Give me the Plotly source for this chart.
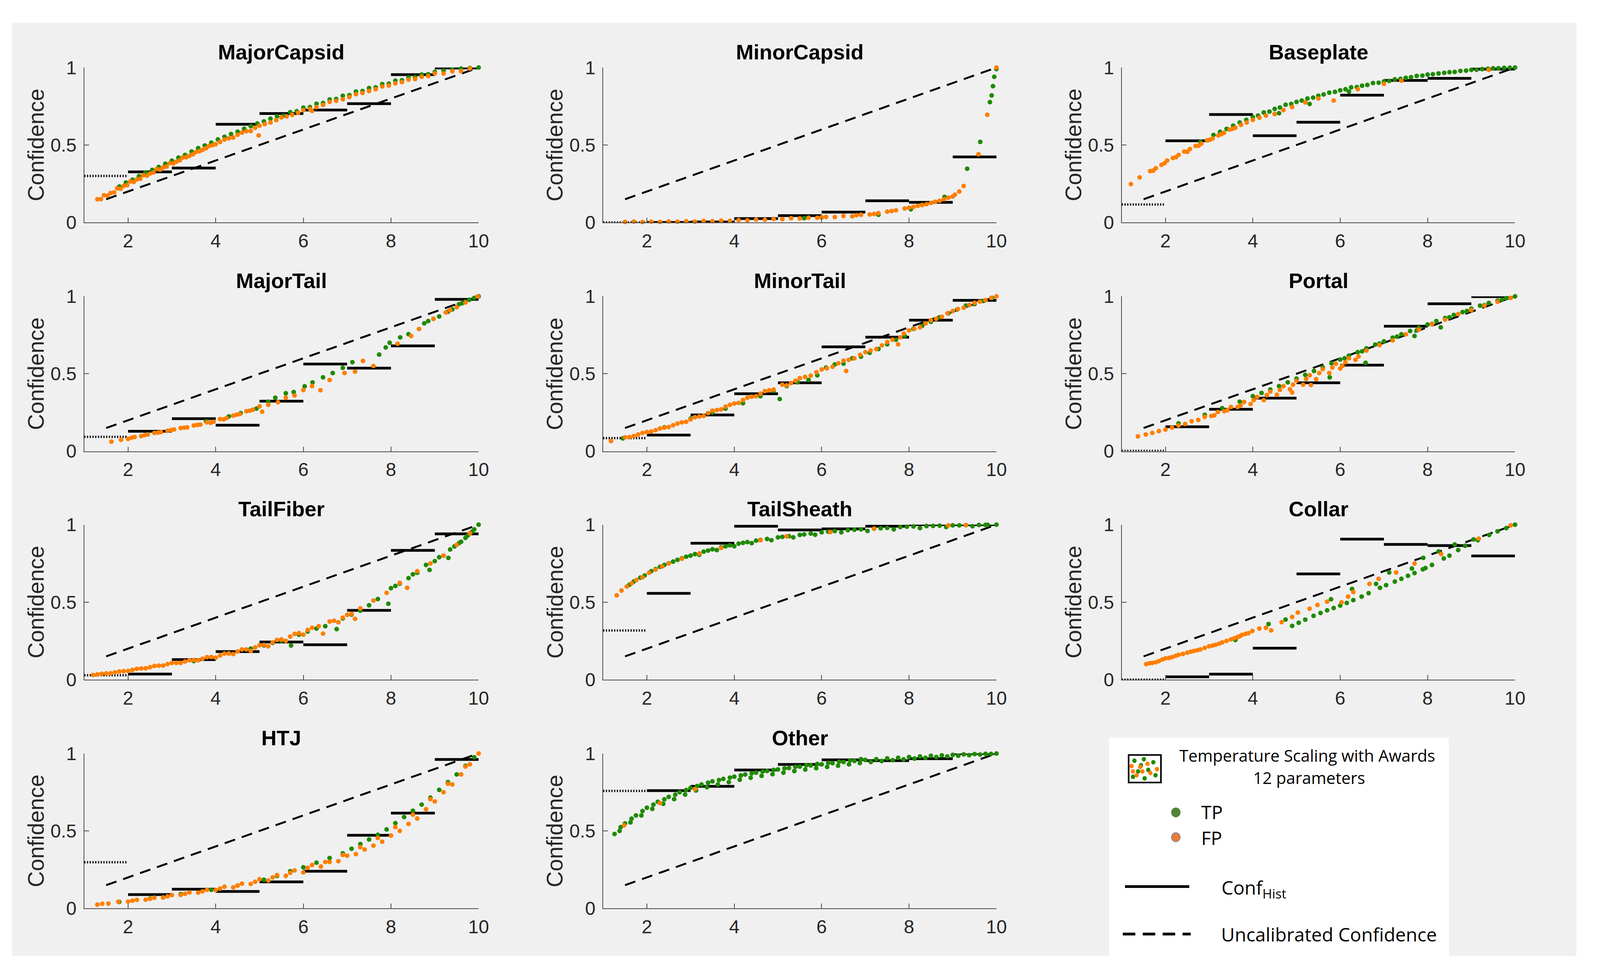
import plotly.graph_objects as go

# ---------------- data ----------------
BIN_EDGES = [1, 2, 3, 4, 5, 6, 7, 8, 9, 10]
X_TICKS = [2, 4, 6, 8, 10]
X_TICK_TEXT = ["2", "4", "6", "8", "10"]
Y_TICKS = [0, 0.5, 1]
Y_TICK_TEXT = ["0", "0.5", "1"]
UNCAL_X = [1.5, 10]
UNCAL_Y = [0.15, 1.0]

# Conf_Hist per bin [1-2 (dotted), 2-3, ..., 9-10]
MAJORCAPSID_HIST = [0.30, 0.327, 0.351, 0.634, 0.703, 0.726, 0.767, 0.954, 0.997]
MINORCAPSID_HIST = [0.0, 0.0, 0.003, 0.025, 0.044, 0.067, 0.14, 0.13, 0.423]
BASEPLATE_HIST = [0.116, 0.527, 0.697, 0.56, 0.647, 0.822, 0.917, 0.93, 0.99]
MAJORTAIL_HIST = [0.093, 0.129, 0.21, 0.168, 0.323, 0.563, 0.536, 0.68, 0.98]
MINORTAIL_HIST = [0.085, 0.104, 0.234, 0.371, 0.442, 0.674, 0.736, 0.846, 0.974]
PORTAL_HIST = [0.002, 0.158, 0.271, 0.343, 0.442, 0.556, 0.807, 0.952, 0.998]
TAILFIBER_HIST = [0.028, 0.036, 0.129, 0.181, 0.243, 0.225, 0.447, 0.834, 0.941]
TAILSHEATH_HIST = [0.317, 0.557, 0.88, 0.99, 0.966, 0.973, 0.99, 1.0, 1.0]
COLLAR_HIST = [0.0, 0.018, 0.035, 0.203, 0.682, 0.907, 0.873, 0.865, 0.798]
HTJ_HIST = [0.298, 0.089, 0.124, 0.109, 0.171, 0.24, 0.472, 0.615, 0.961]
OTHER_HIST = [0.758, 0.76, 0.788, 0.893, 0.929, 0.959, 0.954, 0.966, 1.0]

# scatter points (x, confidence)
MAJORCAPSID_FP = [(1.30,.150),(1.45,.176),(1.60,.190),(1.75,.220),(1.90,.236),(2.05,.265),(2.20,.278),(2.35,.305),(2.50,.316),(2.65,.345),(2.80,.355),(2.95,.383),(3.10,.392),(3.25,.420),(3.40,.430),(3.55,.455),(3.70,.468),(3.85,.494),(4.00,.505),(4.20,.535),(4.40,.548),(4.60,.580),(4.80,.590),(4.98,.562),(5.00,.625),(5.25,.645),(5.50,.678),(5.75,.695),(6.00,.725),(6.20,.720),(6.30,.745),(6.60,.778),(6.90,.795),(7.20,.828),(7.50,.848),(7.80,.878),(8.10,.898),(8.40,.922),(8.70,.940),(9.00,.962),(9.40,.976),(9.80,.994),
                  (1.38,.151),(1.53,.173),(1.68,.194),(1.83,.217),(1.98,.241),(2.13,.262),(2.28,.282),(2.43,.302),(2.58,.322),(2.73,.341),(2.88,.361),(3.03,.381),(3.18,.401),(3.33,.421),(3.48,.440),(3.63,.460),(3.78,.479),(3.93,.499),(4.10,.520),(4.30,.543),(4.50,.566),(4.70,.589),(4.90,.611),(5.12,.635),(5.38,.661),(5.62,.684),(5.88,.708),(6.15,.733),(6.45,.759),(6.75,.785),(7.05,.810),(7.35,.836),(7.65,.860),(7.95,.884),(8.25,.906),(8.55,.926),(8.85,.945),(9.20,.962),(9.60,.977)]
MAJORCAPSID_TP = [(1.8,.232),(2.1,.276),(2.4,.322),(2.7,.358),(3.0,.399),(3.3,.436),(3.6,.480),(3.9,.515),(4.2,.553),(4.5,.586),(4.8,.622),(5.1,.652),(5.4,.685),(5.55,.690),(5.7,.712),(5.85,.718),(6.0,.741),(6.15,.745),(6.3,.766),(6.45,.771),(6.6,.794),(6.75,.797),(6.9,.818),(7.05,.822),(7.2,.845),(7.35,.848),(7.5,.868),(7.65,.872),(7.8,.893),(7.95,.896),(8.1,.915),(8.25,.918),(8.4,.936),(8.55,.938),(8.7,.955),(8.85,.957),(9.0,.972),(9.2,.98),(9.4,.987),(9.6,.993),(9.8,.997),(10.0,1.0),
                  (1.95,.258),(2.25,.299),(2.55,.339),(2.85,.379),(3.15,.419),(3.45,.458),(3.75,.497),(4.05,.536),(4.35,.571),(4.65,.605),(4.95,.639),(5.25,.670)]

MINORCAPSID_FP = [(1.5,.004),(1.7,.006),(1.9,.003),(2.1,.006),(2.3,.004),(2.5,.007),(2.7,.005),(2.9,.008),(3.1,.006),(3.3,.010),(3.5,.008),(3.7,.012),(3.9,.011),(4.1,.016),(4.3,.014),(4.5,.019),(4.7,.018),(4.9,.023),(5.1,.022),(5.3,.028),(5.5,.026),(5.7,.031),(5.9,.030),(6.0,.034),(6.1,.036),(6.3,.035),(6.5,.042),(6.7,.040),(6.8,.047),(6.9,.050),(7.1,.052),(7.2,.055),(7.3,.060),(7.5,.070),(7.6,.074),(7.7,.078),(7.9,.090),(8.0,.095),(8.1,.100),(8.2,.108),(8.3,.112),(8.4,.118),(8.5,.126),(8.6,.134),(8.7,.140),(8.8,.150),(8.9,.160),(9.0,.168),(9.05,.180),(9.15,.200),(9.25,.235),(9.59,.44),(9.79,.695),(10.0,1.0)]
MINORCAPSID_TP = [(5.6,.028),(6.0,.032),(7.3,.050),(8.04,.085),(8.3,.115),(8.81,.165),(9.33,.347),(9.63,.52),(9.85,.777),(9.89,.82),(9.92,.88),(9.95,.94),(10.0,.99)]

BASEPLATE_FP = [(1.21,.248),(1.41,.291),(1.65,.332),(1.72,.334),(1.78,.350),(1.91,.372),(1.98,.383),(2.04,.400),(2.17,.416),(2.24,.421),(2.30,.436),(2.43,.458),(2.50,.456),(2.56,.474),(2.69,.494),(2.76,.496),(2.82,.508),(2.95,.530),(3.02,.535),(3.08,.542),(3.21,.562),(3.28,.570),(3.34,.578),(3.47,.600),(3.54,.605),(3.60,.612),(3.73,.630),(3.86,.645),(4.00,.662),(4.15,.676),(4.30,.690),(4.50,.700),(4.70,.725),(4.90,.745),(5.20,.775),(5.50,.800),(5.85,.787),(6.40,.860),(7.00,.895),(7.40,.915),(9.40,.985)]
BASEPLATE_TP = [(2.8,.52),(3.1,.565),(3.25,.585),(3.4,.604),(3.55,.625),(3.7,.645),(3.85,.662),(4.0,.68),(4.12,.69),(4.25,.71),(4.38,.716),(4.5,.733),(4.6,.705),(4.62,.742),(4.75,.76),(4.88,.765),(5.0,.778),(5.12,.787),(5.25,.80),(5.3,.765),(5.38,.806),(5.5,.818),(5.62,.826),(5.75,.838),(5.88,.843),(6.0,.853),(6.12,.86),(6.2,.845),(6.25,.872),(6.38,.874),(6.5,.883),(6.62,.888),(6.75,.90),(6.88,.902),(7.0,.91),(7.12,.914),(7.25,.924),(7.38,.927),(7.5,.934),(7.62,.938),(7.75,.946),(7.88,.948),(8.0,.955),(8.12,.957),(8.25,.962),(8.38,.966),(8.5,.97),(8.62,.972),(8.75,.978),(8.88,.98),(9.0,.985),(9.12,.986),(9.25,.99),(9.38,.992),(9.5,.995),(9.62,.996),(9.75,.998),(9.88,.999),(10.0,1.0)]

MAJORTAIL_FP = [(1.62,.062),(1.84,.074),(2.0,.080),(2.08,.088),(2.15,.092),(2.3,.098),(2.38,.104),(2.45,.108),(2.6,.118),(2.68,.120),(2.75,.124),(2.9,.132),(2.98,.137),(3.05,.140),(3.2,.150),(3.28,.152),(3.35,.154),(3.5,.166),(3.58,.170),(3.65,.172),(3.8,.186),(3.88,.184),(3.95,.190),(4.1,.208),(4.18,.206),(4.25,.214),(4.4,.230),(4.48,.236),(4.55,.240),(4.7,.258),(4.78,.262),(4.85,.268),(5.0,.290),(5.06,.255),(5.2,.300),(5.42,.316),(5.6,.345),(5.8,.360),(6.0,.395),(6.2,.420),(6.39,.394),(6.6,.460),(6.94,.505),(7.18,.514),(7.36,.583),(7.6,.55),(8.15,.694),(8.46,.744),(8.64,.789),(8.97,.855),(9.25,.896),(9.35,.91),(9.5,.93),(9.7,.96),(9.98,1.0)]
MAJORTAIL_TP = [(3.78,.193),(4.3,.225),(4.57,.246),(4.93,.275),(5.2,.32),(5.36,.345),(5.6,.374),(5.78,.382),(6.03,.419),(6.21,.444),(6.45,.477),(6.67,.505),(6.9,.538),(7.12,.575),(7.73,.624),(7.88,.67),(7.97,.70),(8.21,.735),(8.4,.756),(8.76,.826),(8.85,.84),(8.97,.855),(9.1,.87),(9.3,.9),(9.4,.915),(9.55,.949),(9.62,.955),(9.7,.965),(9.79,.978),(9.9,.99),(10.0,1.0)]

MINORTAIL_FP = [(1.18,.066),(1.5,.090),(1.6,.092),(1.7,.098),(1.8,.108),(1.9,.118),(2.0,.124),(2.1,.127),(2.2,.136),(2.3,.147),(2.4,.152),(2.5,.156),(2.6,.168),(2.7,.179),(2.8,.186),(2.9,.190),(3.0,.205),(3.1,.220),(3.2,.224),(3.3,.228),(3.4,.246),(3.5,.262),(3.6,.266),(3.7,.270),(3.8,.288),(3.9,.300),(4.0,.308),(4.1,.312),(4.2,.33),(4.3,.345),(4.4,.352),(4.5,.355),(4.6,.372),(4.7,.388),(4.8,.394),(4.9,.398),(5.1,.430),(5.3,.440),(5.5,.472),(5.75,.488),(6.0,.528),(6.25,.545),(6.5,.585),(6.56,.518),(6.75,.600),(7.0,.640),(7.25,.660),(7.5,.705),(7.75,.69),(7.8,.735),(8.0,.780),(8.25,.800),(8.5,.845),(8.75,.868),(9.0,.905),(9.25,.926),(9.5,.958),(9.75,.975),(10.0,1.0),
                (5.2,.425),(5.4,.455),(5.62,.48),(5.88,.51),(6.12,.535),(6.38,.568),(6.62,.59),(6.88,.622),(7.12,.65),(7.38,.683),(7.62,.72),(7.88,.76),(8.12,.79),(8.38,.825),(8.62,.855),(8.88,.89),(9.12,.918),(9.38,.944),(9.62,.966),(9.88,.99)]
MINORTAIL_TP = [(1.45,.083),(2.4,.155),(3.0,.21),(3.5,.25),(3.8,.275),(4.2,.31),(4.6,.355),(4.9,.39),(5.04,.337),(5.2,.42),(5.45,.445),(5.7,.46),(5.9,.49),(6.1,.54),(6.3,.56),(6.5,.565),(6.7,.6),(6.9,.61),(7.1,.635),(7.3,.66),(7.5,.69),(7.7,.72),(7.9,.745),(8.1,.79),(8.3,.81),(8.5,.835),(8.7,.865),(8.9,.89),(9.1,.915),(9.3,.94),(9.5,.95),(9.7,.97),(9.9,.99)]

PORTAL_FP = [(1.37,.096),(1.55,.108),(1.7,.118),(1.85,.130),(2.0,.140),(2.15,.152),(2.3,.166),(2.45,.176),(2.6,.194),(2.75,.202),(2.9,.222),(3.05,.228),(3.12,.232),(3.2,.254),(3.35,.258),(3.42,.265),(3.5,.286),(3.65,.285),(3.72,.296),(3.8,.318),(3.95,.305),(4.02,.33),(4.1,.35),(4.25,.33),(4.32,.362),(4.4,.385),(4.55,.365),(4.62,.396),(4.7,.42),(4.85,.40),(4.9,.38),(4.92,.43),(5.0,.455),(5.15,.43),(5.22,.466),(5.3,.49),(5.33,.427),(5.45,.465),(5.52,.505),(5.6,.53),(5.75,.505),(5.82,.54),(5.9,.565),(6.0,.534),(6.05,.55),(6.12,.575),(6.2,.60),(6.35,.59),(6.42,.612),(6.6,.65),(6.9,.685),(7.2,.715),(7.5,.755),(7.8,.785),(8.1,.82),(8.4,.85),(8.7,.885),(9.0,.91),(9.3,.94),(9.6,.965),(9.9,.99)]
PORTAL_TP = [(2.3,.18),(2.9,.235),(3.3,.278),(3.7,.32),(4.0,.355),(4.2,.376),(4.4,.398),(4.6,.42),(4.8,.445),(5.0,.468),(5.2,.493),(5.4,.518),(5.6,.542),(5.76,.477),(5.8,.568),(6.0,.592),(6.1,.60),(6.2,.617),(6.4,.64),(6.5,.645),(6.58,.571),(6.6,.664),(6.8,.688),(6.9,.695),(7.0,.71),(7.2,.733),(7.3,.74),(7.4,.755),(7.6,.776),(7.7,.744),(7.75,.78),(7.8,.797),(8.0,.818),(8.1,.822),(8.2,.84),(8.3,.80),(8.4,.86),(8.5,.865),(8.6,.88),(8.8,.898),(8.9,.905),(9.0,.92),(9.2,.94),(9.3,.943),(9.4,.957),(9.6,.972),(9.7,.978),(9.8,.988),(10.0,1.0)]

TAILFIBER_FP = [(1.2,.03),(1.3,.034),(1.4,.038),(1.5,.04),(1.6,.041),(1.7,.047),(1.8,.053),(1.9,.055),(2.0,.056),(2.1,.063),(2.2,.070),(2.3,.072),(2.4,.073),(2.5,.08),(2.6,.088),(2.7,.09),(2.8,.091),(2.9,.1),(3.0,.108),(3.1,.108),(3.2,.108),(3.3,.117),(3.4,.125),(3.5,.126),(3.6,.125),(3.7,.135),(3.8,.145),(3.9,.146),(4.0,.142),(4.1,.156),(4.2,.168),(4.3,.168),(4.4,.165),(4.5,.182),(4.6,.195),(4.7,.195),(4.8,.185),(4.9,.208),(5.0,.222),(5.1,.224),(5.2,.215),(5.3,.24),(5.4,.256),(5.5,.26),(5.6,.25),(5.7,.278),(5.8,.295),(5.9,.3),(6.0,.29),(6.1,.32),(6.2,.335),(6.35,.345),(6.45,.297),(6.6,.375),(6.7,.38),(6.8,.37),(6.9,.40),(7.0,.418),(7.1,.425),(7.18,.392),(7.3,.46),(7.6,.51),(7.9,.56),(8.2,.625),(8.37,.593),(8.6,.70),(8.9,.75),(9.2,.80),(9.5,.87),(9.8,.945)]
TAILFIBER_TP = [(3.5,.12),(4.3,.17),(4.8,.2),(5.1,.22),(5.3,.237),(5.5,.25),(5.72,.22),(5.9,.29),(6.1,.31),(6.3,.33),(6.5,.345),(6.76,.326),(6.9,.395),(7.1,.42),(7.3,.445),(7.5,.48),(7.7,.52),(7.94,.49),(8.0,.59),(8.1,.605),(8.2,.62),(8.4,.655),(8.5,.68),(8.6,.69),(8.8,.74),(8.88,.708),(9.0,.765),(9.1,.79),(9.2,.80),(9.31,.786),(9.35,.84),(9.45,.86),(9.55,.88),(9.6,.89),(9.7,.915),(9.75,.93),(9.85,.955),(9.9,.97),(10.0,1.0)]

TAILSHEATH_FP = [(1.31,.544),(1.42,.575),(1.54,.601),(1.65,.622),(1.76,.643),(1.9,.66),(2.05,.69),(2.2,.71),(2.35,.73),(2.5,.75),(2.8,.78),(3.2,.815),(3.7,.85),(4.6,.9),(5.2,.925),(6.2,.953),(7.2,.975),(8.9,.996),(9.3,.997)]
TAILSHEATH_TP = [(1.6,.612),(1.85,.658),(2.1,.70),(2.3,.728),(2.5,.751),(2.7,.773),(2.9,.793),(3.1,.81),(3.2,.806),(3.3,.826),(3.5,.841),(3.6,.836),(3.7,.854),(3.9,.867),(4.0,.861),(4.1,.878),(4.3,.888),(4.4,.881),(4.5,.897),(4.75,.908),(4.85,.9),(5.0,.918),(5.25,.926),(5.35,.918),(5.5,.934),(5.75,.943),(5.85,.935),(6.0,.951),(6.3,.959),(6.45,.951),(6.6,.965),(6.9,.97),(7.05,.96),(7.2,.974),(7.5,.979),(7.65,.97),(7.8,.985),(8.1,.989),(8.25,.978),(8.4,.991),(8.7,.994),(8.85,.985),(9.0,.996),(9.3,.997),(9.45,.99),(9.6,.998),(9.8,.999),(10.0,1.0),
                 (1.7,.633),(1.95,.672),(2.2,.714),(2.4,.74),(2.6,.762),(2.8,.783),(3.0,.80),(3.4,.833),(3.8,.86),(4.2,.883),(4.6,.902),(5.1,.921),(5.6,.937),(6.15,.955),(6.75,.967),(7.35,.977),(7.95,.987),(8.55,.992),(9.15,.996),(9.75,.999)]

COLLAR_FP = [(1.56,.1),(1.63,.105),(1.7,.108),(1.78,.112),(1.85,.12),(1.93,.13),(2.0,.137),(2.08,.14),(2.15,.145),(2.23,.153),(2.3,.16),(2.4,.166),(2.5,.174),(2.58,.18),(2.65,.185),(2.73,.19),(2.8,.195),(2.9,.205),(3.0,.215),(3.08,.22),(3.15,.225),(3.23,.232),(3.3,.24),(3.4,.25),(3.5,.26),(3.58,.268),(3.65,.275),(3.7,.28),(3.75,.289),(3.83,.295),(3.9,.30),(3.99,.314),(4.15,.33),(4.3,.334),(4.42,.318),(4.66,.371),(4.9,.404),(5.03,.433),(5.3,.458),(5.48,.482),(5.7,.503),(6.03,.499),(6.18,.536),(6.3,.565),(6.67,.618),(6.88,.651),(7.28,.692),(7.7,.749),(8.31,.811),(9.17,.91),(9.9,.996)]
COLLAR_TP = [(3.6,.256),(4.36,.359),(4.75,.388),(4.9,.347),(5.05,.367),(5.2,.387),(5.39,.412),(5.55,.43),(5.7,.447),(5.79,.519),(5.85,.462),(6.0,.478),(6.15,.495),(6.27,.585),(6.3,.513),(6.49,.536),(6.65,.558),(6.82,.618),(6.91,.593),(7.05,.61),(7.12,.692),(7.25,.633),(7.4,.651),(7.55,.67),(7.64,.717),(7.7,.688),(7.89,.712),(7.9,.786),(7.95,.72),(8.1,.74),(8.25,.827),(8.37,.782),(8.5,.80),(8.62,.873),(8.7,.836),(8.86,.864),(9.05,.905),(9.15,.9),(9.41,.934),(9.6,.957),(9.8,.978),(10.0,1.0)]

HTJ_FP = [(1.3,.024),(1.41,.030),(1.55,.031),(1.78,.043),(2.0,.044),(2.1,.05),(2.2,.055),(2.4,.056),(2.5,.062),(2.6,.069),(2.8,.070),(2.9,.078),(3.0,.086),(3.2,.087),(3.3,.094),(3.4,.103),(3.6,.102),(3.7,.11),(3.8,.12),(4.0,.118),(4.1,.128),(4.2,.14),(4.4,.136),(4.5,.148),(4.6,.16),(4.8,.158),(4.9,.172),(5.0,.188),(5.2,.18),(5.3,.2),(5.4,.215),(5.6,.21),(5.7,.23),(5.8,.245),(6.0,.232),(6.1,.262),(6.2,.28),(6.4,.27),(6.5,.3),(6.6,.30),(6.8,.305),(6.9,.345),(7.0,.34),(7.2,.35),(7.3,.395),(7.4,.38),(7.6,.405),(7.7,.455),(7.8,.43),(8.0,.47),(8.1,.525),(8.2,.50),(8.4,.545),(8.5,.605),(8.6,.58),(8.8,.64),(8.9,.705),(9.0,.69),(9.2,.75),(9.3,.805),(9.4,.80),(9.6,.865),(9.7,.915),(9.8,.93),(10.0,1.0)]
HTJ_TP = [(1.8,.042),(2.5,.064),(3.2,.092),(3.9,.12),(4.5,.148),(5.1,.185),(5.4,.21),(5.7,.24),(6.0,.265),(6.3,.295),(6.6,.325),(6.9,.355),(7.1,.385),(7.3,.415),(7.5,.445),(7.7,.475),(7.9,.51),(8.1,.55),(8.3,.59),(8.5,.63),(8.7,.67),(8.9,.715),(9.1,.765),(9.3,.815),(9.5,.865),(9.7,.92),(9.9,.975)]

OTHER_FP = [(1.48,.536),(2.3,.68),(3.1,.77)]
OTHER_TP = [(1.26,.48),(1.5,.548),(1.75,.60),(2.0,.65),(2.25,.688),(2.5,.72),(2.75,.75),(3.0,.778),(3.25,.80),(3.5,.82),(3.75,.836),(4.0,.85),(4.25,.864),(4.5,.876),(4.75,.887),(5.0,.897),(5.25,.906),(5.5,.915),(5.75,.923),(6.0,.930),(6.25,.937),(6.5,.945),(6.75,.952),(7.0,.958),(7.25,.963),(7.5,.968),(7.75,.972),(8.0,.977),(8.25,.981),(8.5,.985),(8.75,.988),(9.0,.991),(9.25,.994),(9.5,.996),(9.75,.998),(10.0,1.0),
            (1.375,.50),(1.625,.555),(1.875,.60),(2.125,.642),(2.375,.675),(2.625,.705),(2.875,.735),(3.125,.761),(3.375,.782),(3.625,.80),(3.875,.815),(4.125,.83),(4.375,.843),(4.625,.855),(4.875,.866),(5.125,.876),(5.375,.886),(5.625,.896),(5.875,.905),(6.125,.913),(6.375,.921),(6.625,.93),(6.875,.938),(7.125,.945),(7.375,.951),(7.625,.957),(7.875,.962),(8.125,.967),(8.375,.972),(8.625,.977),(8.875,.981),(9.125,.985),(9.375,.989),(9.625,.993),(9.875,.997),
            (1.4,.524),(1.65,.579),(1.9,.628),(2.15,.670),(2.4,.704),(2.65,.734),(2.9,.764),(3.15,.790),(3.4,.811),(3.65,.828),(3.9,.844),(4.15,.858),(4.4,.871),(4.65,.883),(4.9,.894),(5.15,.904),(5.4,.914),(5.65,.924),(5.9,.932),(6.15,.939),(6.4,.947),(6.65,.955),(6.9,.963)]

PANELS = [
    ("MajorCapsid", MAJORCAPSID_HIST, MAJORCAPSID_TP, MAJORCAPSID_FP),
    ("MinorCapsid", MINORCAPSID_HIST, MINORCAPSID_TP, MINORCAPSID_FP),
    ("Baseplate", BASEPLATE_HIST, BASEPLATE_TP, BASEPLATE_FP),
    ("MajorTail", MAJORTAIL_HIST, MAJORTAIL_TP, MAJORTAIL_FP),
    ("MinorTail", MINORTAIL_HIST, MINORTAIL_TP, MINORTAIL_FP),
    ("Portal", PORTAL_HIST, PORTAL_TP, PORTAL_FP),
    ("TailFiber", TAILFIBER_HIST, TAILFIBER_TP, TAILFIBER_FP),
    ("TailSheath", TAILSHEATH_HIST, TAILSHEATH_TP, TAILSHEATH_FP),
    ("Collar", COLLAR_HIST, COLLAR_TP, COLLAR_FP),
    ("HTJ", HTJ_HIST, HTJ_TP, HTJ_FP),
    ("Other", OTHER_HIST, OTHER_TP, OTHER_FP),
]

# ---------------- styling / layout ----------------
W, H = 4377, 2505
TP_COLOR = "#1f8a00"
FP_COLOR = "#ff7f00"
AX_COLOR = "#4a4a4a"
TXT_COLOR = "#262626"
SANS = "Liberation Sans, Arial, Helvetica, sans-serif"
LEG_FONT = "Open Sans, Noto Sans, sans-serif"
MARKER_SIZE = 12

COL_PX = [(232, 1318), (1661, 2744), (3089, 4172)]
ROW_PX = [(150, 555), (748, 1153), (1345, 1750), (1943, 2348)]


def fx(p):
    return p / W


def fy(p):
    return 1 - p / H


fig = go.Figure()
layout = dict(
    width=W, height=H,
    margin=dict(l=0, r=0, t=0, b=0),
    paper_bgcolor="white",
    plot_bgcolor="white",
    showlegend=False,
    shapes=[], annotations=[],
)

for i, (name, hist, tp, fp) in enumerate(PANELS):
    r, c = divmod(i, 3)
    k = i + 1
    xa = "x" if k == 1 else f"x{k}"
    ya = "y" if k == 1 else f"y{k}"
    common = dict(xaxis=xa, yaxis=ya, showlegend=False, hoverinfo="skip")

    # uncalibrated confidence
    fig.add_trace(go.Scatter(x=UNCAL_X, y=UNCAL_Y, mode="lines",
                             line=dict(color="black", width=5, dash="28px,18px"), **common))
    # Conf_Hist: first bin dotted, others solid
    fig.add_trace(go.Scatter(x=[BIN_EDGES[0], BIN_EDGES[1]], y=[hist[0], hist[0]], mode="lines",
                             line=dict(color="black", width=6, dash="3px,4px"), **common))
    hx, hy = [], []
    for j in range(1, len(hist)):
        hx += [BIN_EDGES[j], BIN_EDGES[j + 1], None]
        hy += [hist[j], hist[j], None]
    fig.add_trace(go.Scatter(x=hx, y=hy, mode="lines",
                             line=dict(color="black", width=7), **common))
    # points
    fig.add_trace(go.Scatter(x=[p[0] for p in tp], y=[p[1] for p in tp], mode="markers",
                             marker=dict(color=TP_COLOR, size=MARKER_SIZE, line=dict(width=0)),
                             cliponaxis=False, **common))
    fig.add_trace(go.Scatter(x=[p[0] for p in fp], y=[p[1] for p in fp], mode="markers",
                             marker=dict(color=FP_COLOR, size=MARKER_SIZE, line=dict(width=0)),
                             cliponaxis=False, **common))

    x0, x1 = COL_PX[c]
    y0, y1 = ROW_PX[r]
    axis_common = dict(
        showline=True, linecolor=AX_COLOR, linewidth=2,
        ticks="inside", ticklen=12, tickwidth=2, tickcolor=AX_COLOR,
        showgrid=False, zeroline=False,
        tickfont=dict(family=SANS, size=48, color=TXT_COLOR),
        fixedrange=True,
    )
    layout["xaxis" if k == 1 else f"xaxis{k}"] = dict(
        domain=[fx(x0), fx(x1)], range=[1, 10], anchor=ya,
        tickvals=X_TICKS, ticktext=X_TICK_TEXT, ticklabelstandoff=4, **axis_common)
    layout["yaxis" if k == 1 else f"yaxis{k}"] = dict(
        domain=[fy(y1), fy(y0)], range=[0, 1], anchor=xa,
        tickvals=Y_TICKS, ticktext=Y_TICK_TEXT, ticklabelstandoff=8, **axis_common)

    layout["annotations"].append(dict(
        x=fx((x0 + x1) / 2), y=fy(y0 - 41), xref="paper", yref="paper",
        text=f"<b>{name}</b>", showarrow=False, xanchor="center", yanchor="middle",
        font=dict(family=SANS, size=54, color="black")))
    layout["annotations"].append(dict(
        x=fx(x0 - 133), y=fy((y0 + y1) / 2), xref="paper", yref="paper",
        text="Confidence", textangle=-90, showarrow=False, xanchor="center", yanchor="middle",
        font=dict(family=SANS, size=57, color=TXT_COLOR)))

# background panels
layout["shapes"].append(dict(type="rect", xref="paper", yref="paper", layer="below",
                             x0=fx(33), x1=fx(4341), y0=fy(2472), y1=fy(33),
                             fillcolor="#f0f0f0", line=dict(width=0)))
layout["shapes"].append(dict(type="rect", xref="paper", yref="paper", layer="below",
                             x0=fx(3054), x1=fx(3990), y0=fy(2472), y1=fy(1902),
                             fillcolor="white", line=dict(width=0)))

# legend icon (box with mixed dots)
layout["shapes"].append(dict(type="rect", xref="paper", yref="paper", layer="above",
                             x0=fx(3108), x1=fx(3197), y0=fy(2019), y1=fy(1947),
                             fillcolor="white", line=dict(color="black", width=4)))
icon_green = [(3124, 1962), (3150, 1958), (3176, 1966), (3134, 1990), (3162, 1986),
              (3120, 2004), (3182, 2000), (3152, 2008), (3142, 1974)]
icon_orange = [(3116, 1976), (3140, 1978), (3160, 1970), (3130, 2000), (3168, 1994),
               (3146, 1990), (3186, 1984), (3120, 1990)]
for (cx, cy), col in [(p, TP_COLOR) for p in icon_green] + [(p, FP_COLOR) for p in icon_orange]:
    rr = 6
    layout["shapes"].append(dict(type="circle", xref="paper", yref="paper", layer="above",
                                 x0=fx(cx - rr), x1=fx(cx + rr), y0=fy(cy + rr), y1=fy(cy - rr),
                                 fillcolor=col, line=dict(width=0)))

# legend markers / line samples
for cy, col, lc in [(2097, "#548235", "#548235"), (2162, "#ED7D31", "#5a7fb8")]:
    rr = 12
    layout["shapes"].append(dict(type="circle", xref="paper", yref="paper", layer="above",
                                 x0=fx(3238 - rr), x1=fx(3238 + rr), y0=fy(cy + rr), y1=fy(cy - rr),
                                 fillcolor=col, line=dict(color=lc, width=1.5)))
layout["shapes"].append(dict(type="line", xref="paper", yref="paper", layer="above",
                             x0=fx(3098), x1=fx(3275), y0=fy(2291), y1=fy(2291),
                             line=dict(color="black", width=7)))
layout["shapes"].append(dict(type="line", xref="paper", yref="paper", layer="above",
                             x0=fx(3092), x1=fx(3279), y0=fy(2415), y1=fy(2415),
                             line=dict(color="black", width=7, dash="32px,19px")))

leg_txt = [
    ("Temperature Scaling with Awards", 3600, 1948, "center", 42),
    ("12 parameters", 3605, 2006, "center", 42),
    ("TP", 3306, 2096, "left", 48),
    ("FP", 3306, 2163, "left", 48),
    ("Conf<sub>Hist</sub>", 3362, 2296, "left", 48),
    ("Uncalibrated Confidence", 3360, 2416, "left", 48),
]
for t, x, y, anc, sz in leg_txt:
    layout["annotations"].append(dict(
        x=fx(x), y=fy(y), xref="paper", yref="paper", text=t, showarrow=False,
        xanchor=anc, yanchor="middle", font=dict(family=LEG_FONT, size=sz, color="black")))

fig.update_layout(**layout)

# make the figure fill the browser viewport exactly (all positions are paper-relative)
FIT_SCRIPT = """
(function(){
  var gd = document.getElementById('{plot_id}');
  document.documentElement.style.margin = '0';
  document.body.style.margin = '0';
  document.documentElement.style.overflow = 'hidden';
  document.body.style.overflow = 'hidden';
  var w = window.innerWidth, h = window.innerHeight;
  if (w > 0 && h > 0 && (w !== %d || h !== %d)) {
    Plotly.relayout(gd, {width: w, height: h});
  }
})();
""" % (W, H)
fig.write_html("out.html", post_script=FIT_SCRIPT,
               config={"displayModeBar": False, "staticPlot": True})
